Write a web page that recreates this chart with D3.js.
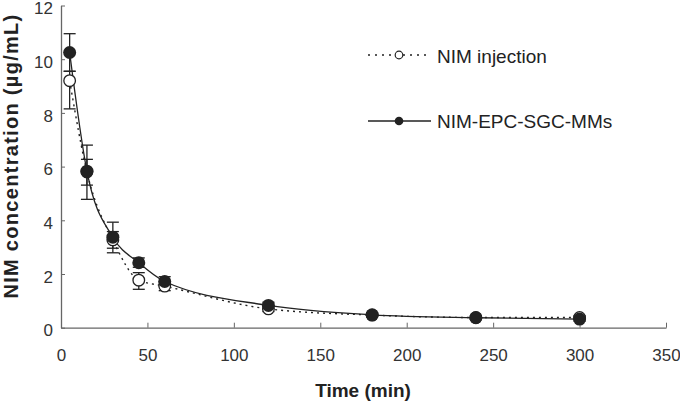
<!DOCTYPE html>
<html>
<head>
<meta charset="utf-8">
<script src="https://cdn.jsdelivr.net/npm/d3@7"></script>
<style>
  body { margin: 0; background: #fff; }
  text { font-family: "Liberation Sans", Arial, sans-serif; }
</style>
</head>
<body>
<div id="chart"></div>
<script>
// sampling times (min)
const times = [5, 15, 30, 45, 60, 120, 180, 240, 300]

// NIM injection (open circles)
const injMean = [9.2, 5.8, 3.27, 1.77, 1.55, 0.7, 0.47, 0.38, 0.38]
const injHigh = [9.55, 6.27, 3.58, 2.05, 1.7, 0.8, 0.55, 0.45, 0.45]
const injLow = [8.15, 5.31, 2.79, 1.43, 1.38, 0.6, 0.4, 0.32, 0.3]

// NIM-EPC-SGC-MMs (filled circles)
const mmMean = [10.25, 5.83, 3.37, 2.42, 1.72, 0.83, 0.48, 0.37, 0.32]
const mmHigh = [10.95, 6.8, 3.93, 2.6, 1.9, 0.95, 0.56, 0.43, 0.42]
const mmLow = [9.55, 4.78, 2.96, 2.25, 1.55, 0.72, 0.42, 0.31, 0.24]

const xTicks = [0, 50, 100, 150, 200, 250, 300, 350]
const yTicks = [0, 2, 4, 6, 8, 10, 12]

const svg_width = 680, svg_height = 404
const plot_left = 61, plot_right = 666, plot_top = 5.5, plot_bottom = 327.7

const svg = d3.select('#chart').append('svg')
    .attr('width', svg_width).attr('height', svg_height)

const x = d3.scaleLinear().domain([0, 350]).range([plot_left, plot_right])
const y = d3.scaleLinear().domain([0, 12]).range([plot_bottom, plot_top])

const axisColor = '#666'

// x axis, ticks pointing up into the plot
const xAxis = svg.append('g')
    .attr('transform', `translate(0,${plot_bottom})`)
    .call(d3.axisBottom(x).tickValues(xTicks).tickSizeInner(-5).tickSizeOuter(0).tickPadding(21))
xAxis.select('.domain').attr('stroke', axisColor).attr('stroke-width', 1.3)
xAxis.selectAll('.tick line').attr('stroke', axisColor)
xAxis.selectAll('text').attr('font-size', 17).attr('fill', '#333')

// y axis, ticks pointing right
const yAxis = svg.append('g')
    .attr('transform', `translate(${plot_left},0)`)
    .call(d3.axisLeft(y).tickValues(yTicks).tickSizeInner(-4).tickSizeOuter(0).tickPadding(8))
yAxis.select('.domain').attr('stroke', axisColor).attr('stroke-width', 1.3)
yAxis.selectAll('.tick line').attr('stroke', axisColor)
yAxis.selectAll('text').attr('font-size', 17).attr('fill', '#333').attr('dy', '0.48em')

svg.append('text')
    .attr('x', 363).attr('y', 397)
    .attr('text-anchor', 'middle')
    .attr('font-size', 19).attr('font-weight', 'bold').attr('fill', '#222')
    .text('Time (min)')

svg.append('text')
    .attr('transform', 'translate(18,156) rotate(-90)')
    .attr('text-anchor', 'middle')
    .attr('font-size', 20).attr('font-weight', 'bold').attr('fill', '#222')
    .attr('letter-spacing', 1.3)
    .text('NIM concentration (µg/mL)')

const inj = times.map((t, i) => ({ t, m: injMean[i], hi: injHigh[i], lo: injLow[i] }))
const mm = times.map((t, i) => ({ t, m: mmMean[i], hi: mmHigh[i], lo: mmLow[i] }))

const line = d3.line().x(d => x(d.t)).y(d => y(d.m)).curve(d3.curveMonotoneX)

// error bars
function errorBars (data, cls) {
    const g = svg.append('g').attr('class', cls).attr('stroke', '#222').attr('stroke-width', 1.3)
    g.selectAll('line.v').data(data).join('line').attr('class', 'v')
        .attr('x1', d => x(d.t)).attr('x2', d => x(d.t))
        .attr('y1', d => y(d.hi)).attr('y2', d => y(d.lo))
    g.selectAll('line.h').data(data).join('line').attr('class', 'h')
        .attr('x1', d => x(d.t) - 6).attr('x2', d => x(d.t) + 6)
        .attr('y1', d => y(d.hi)).attr('y2', d => y(d.hi))
    g.selectAll('line.l').data(data).join('line').attr('class', 'l')
        .attr('x1', d => x(d.t) - 6).attr('x2', d => x(d.t) + 6)
        .attr('y1', d => y(d.lo)).attr('y2', d => y(d.lo))
}
errorBars(inj, 'err-inj')
errorBars(mm, 'err-mm')

svg.append('path').datum(inj)
    .attr('d', line).attr('fill', 'none')
    .attr('stroke', '#222').attr('stroke-width', 1.4).attr('stroke-dasharray', '2,4')

svg.append('path').datum(mm)
    .attr('d', line).attr('fill', 'none')
    .attr('stroke', '#222').attr('stroke-width', 1.3)

svg.selectAll('circle.inj').data(inj).join('circle')
    .attr('class', 'inj')
    .attr('cx', d => x(d.t)).attr('cy', d => y(d.m)).attr('r', 5.8)
    .attr('fill', '#fff').attr('stroke', '#222').attr('stroke-width', 1.3)

svg.selectAll('circle.mm').data(mm).join('circle')
    .attr('class', 'mm')
    .attr('cx', d => x(d.t)).attr('cy', d => y(d.m)).attr('r', 6.5)
    .attr('fill', '#222')

// legend
const lg = svg.append('g')
lg.append('line').attr('x1', 368).attr('x2', 428).attr('y1', 55).attr('y2', 55)
    .attr('stroke', '#222').attr('stroke-width', 1.3).attr('stroke-dasharray', '2,5')
lg.append('circle').attr('cx', 399).attr('cy', 55).attr('r', 3.8)
    .attr('fill', '#fff').attr('stroke', '#222').attr('stroke-width', 1.2)
lg.append('text').attr('x', 437).attr('y', 62.5).attr('font-size', 19).attr('fill', '#222')
    .text('NIM injection')

lg.append('line').attr('x1', 368).attr('x2', 431).attr('y1', 121).attr('y2', 121)
    .attr('stroke', '#222').attr('stroke-width', 1.3)
lg.append('circle').attr('cx', 399).attr('cy', 121).attr('r', 4.3).attr('fill', '#222')
lg.append('text').attr('x', 437).attr('y', 127.5).attr('font-size', 19).attr('fill', '#222')
    .text('NIM-EPC-SGC-MMs')
</script>
</body>
</html>
